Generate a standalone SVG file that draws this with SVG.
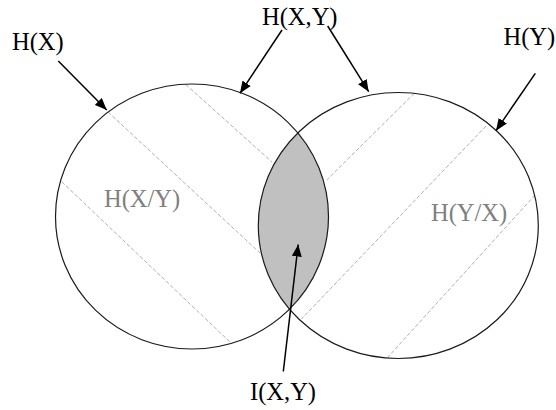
<svg xmlns="http://www.w3.org/2000/svg" width="556" height="410" viewBox="0 0 556 410">
<style>
.ell{fill:none;stroke:#1a1a1a;stroke-width:1.2}
.hatch{fill:none;stroke:#b0b0b0;stroke-width:1;stroke-dasharray:4 2}
.lbl{font-family:"Liberation Serif","Times New Roman",serif;font-size:24.5px;fill:#000}
.sub{font-family:"Liberation Serif","Times New Roman",serif;font-size:24.5px;fill:#808080}
.arr{fill:none;stroke:#000;stroke-width:1.5;marker-end:url(#ah)}
</style>
<defs>
<marker id="ah" markerUnits="userSpaceOnUse" markerWidth="12" markerHeight="10" viewBox="0 0 12 10" refX="12" refY="5" orient="auto">
<path d="M0,0 L12,5 L0,10 Z" fill="#000"/>
</marker>
<clipPath id="clipX"><ellipse cx="192" cy="216.5" rx="136.5" ry="132.5"/></clipPath>
</defs>
<rect width="556" height="410" fill="#fff"/>
<g id="lens">
<ellipse cx="398.3" cy="225.5" rx="140" ry="133" fill="#c0c0c0" clip-path="url(#clipX)"/>
</g>
<g id="hatching">
<line class="hatch" x1="185.7" y1="84.5" x2="272" y2="162"/>
<line class="hatch" x1="108" y1="112" x2="260" y2="253"/>
<line class="hatch" x1="61.7" y1="181.7" x2="231" y2="343"/>
<line class="hatch" x1="414.3" y1="93.3" x2="326.7" y2="180"/>
<line class="hatch" x1="486" y1="126" x2="301.5" y2="319"/>
<line class="hatch" x1="535" y1="195" x2="388" y2="357"/>
</g>
<g id="circleX">
<ellipse class="ell" cx="192" cy="216.5" rx="136.5" ry="132.5"/>
<text class="sub" x="104" y="206.5">H(X/Y)</text>
</g>
<g id="circleY">
<ellipse class="ell" cx="398.3" cy="225.5" rx="140" ry="133"/>
<text class="sub" x="431" y="221">H(Y/X)</text>
</g>
<g id="labels">
<text id="lblHX" class="lbl" x="12" y="49.5">H(X)</text>
<text id="lblHXY" class="lbl" x="262" y="24.5">H(X,Y)</text>
<text id="lblHY" class="lbl" x="503.5" y="44.5">H(Y)</text>
<text id="lblIXY" class="lbl" x="250" y="400">I(X,Y)</text>
</g>
<g id="connectors">
<line class="arr" x1="58.3" y1="61" x2="106.7" y2="110"/>
<line class="arr" x1="282" y1="30" x2="240" y2="93.3"/>
<line class="arr" x1="327.7" y1="26" x2="368.7" y2="91.7"/>
<line class="arr" x1="535.3" y1="73.3" x2="496" y2="130.7"/>
<line class="arr" x1="283.3" y1="371.5" x2="298.2" y2="244.5"/>
</g>
</svg>
